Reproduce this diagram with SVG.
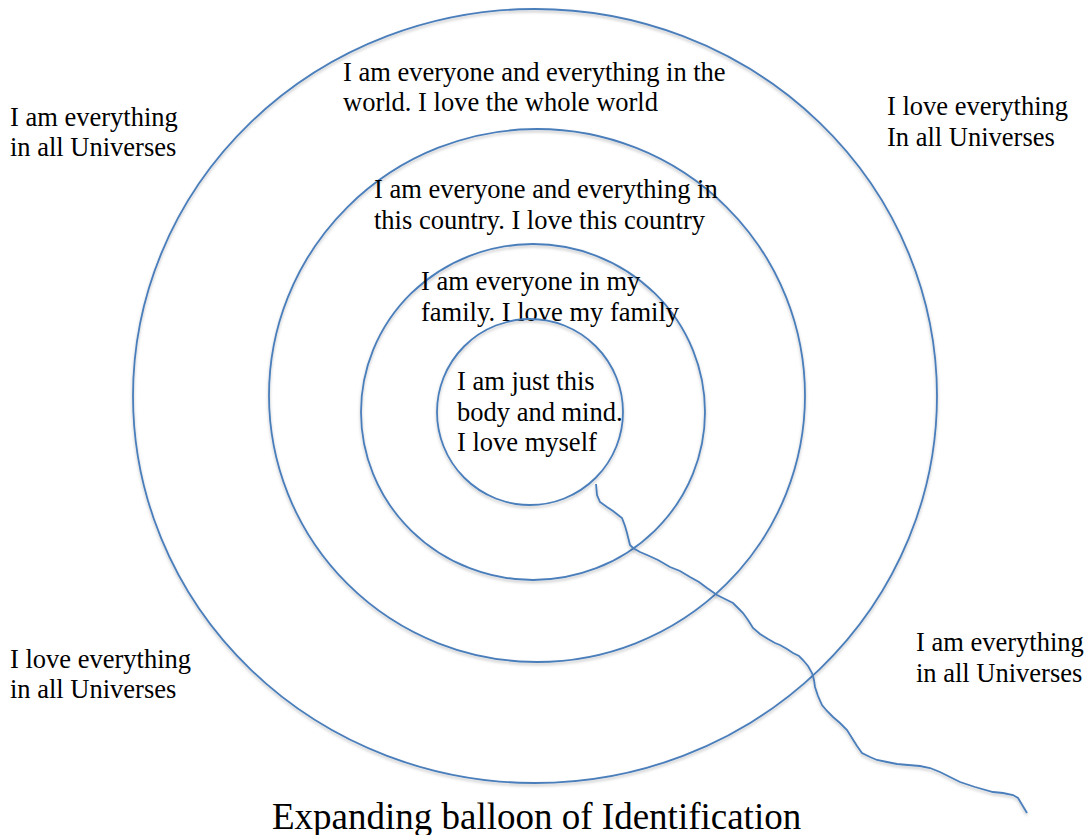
<svg xmlns="http://www.w3.org/2000/svg" width="1087" height="835" viewBox="0 0 1087 835">
<defs>
<filter id="sh" x="-10%" y="-10%" width="120%" height="120%">
<feDropShadow dx="0" dy="2" stdDeviation="1.5" flood-color="#000" flood-opacity="0.25"/>
</filter>
<style>
.ring{fill:none;stroke:#4a7ebb;stroke-width:1.8;filter:url(#sh)}
.t{font-family:"Liberation Serif","Times New Roman",serif;font-size:26.5px;fill:#000}
.title{font-family:"Liberation Serif","Times New Roman",serif;font-size:37px;fill:#000}
</style>
</defs>
<rect width="1087" height="835" fill="#fff"/>
<g id="world">
<ellipse class="ring" cx="535" cy="396" rx="402" ry="387"/>
<text class="t" x="343" y="81">I am everyone and everything in the</text>
<text class="t" x="343" y="111">world. I love the whole world</text>
</g>
<g id="country">
<ellipse class="ring" cx="537" cy="395.5" rx="268" ry="266.5"/>
<text class="t" x="374" y="198">I am everyone and everything in</text>
<text class="t" x="374" y="229">this country. I love this country</text>
</g>
<g id="family">
<ellipse class="ring" cx="533" cy="412" rx="172" ry="168"/>
<text class="t" x="421" y="290">I am everyone in my</text>
<text class="t" x="421" y="321">family. I love my family</text>
</g>
<g id="self">
<ellipse class="ring" cx="530" cy="412" rx="93" ry="93"/>
<text class="t" x="457" y="390">I am just this</text>
<text class="t" x="457" y="421">body and mind.</text>
<text class="t" x="457" y="451">I love myself</text>
</g>
<g id="label-top-left">
<text class="t" x="10" y="126">I am everything</text>
<text class="t" x="10" y="156">in all Universes</text>
</g>
<g id="label-top-right">
<text class="t" x="887" y="115">I love everything</text>
<text class="t" x="887" y="146">In all Universes</text>
</g>
<g id="label-bottom-left">
<text class="t" x="10" y="668">I love everything</text>
<text class="t" x="10" y="698">in all Universes</text>
</g>
<g id="label-bottom-right">
<text class="t" x="916" y="651">I am everything</text>
<text class="t" x="916" y="682">in all Universes</text>
</g>
<g id="connectors">
<path class="ring" d="M596,484 L597,495 L600,502 L607,507 L613,511 L622,518 L625,526 L627,533 L630,545 L633,548 L640,552 L647,555 L658,560 L670,567 L680,571 L690,577 L699,582 L707,588 L717,595 L725,599 L733,603 L738,608 L743,613 L748,620 L753,628 L760,634 L768,639 L775,643 L780,645 L787,649 L793,653 L799,656 L803,660 L808,666 L812,673 L814,680 L815,687 L818,696 L822,705 L827,711 L833,717 L840,723 L847,730 L852,738 L857,746 L862,753 L870,757 L877,760 L887,762 L897,764 L908,765 L920,766 L930,768 L940,772 L950,777 L960,782 L975,787 L993,792 L1003,793 L1013,795 L1018,798 L1021,803 L1024,808 L1027,813"/>
</g>
<g id="title">
<text class="title" x="272" y="829">Expanding balloon of Identification</text>
</g>
</svg>
